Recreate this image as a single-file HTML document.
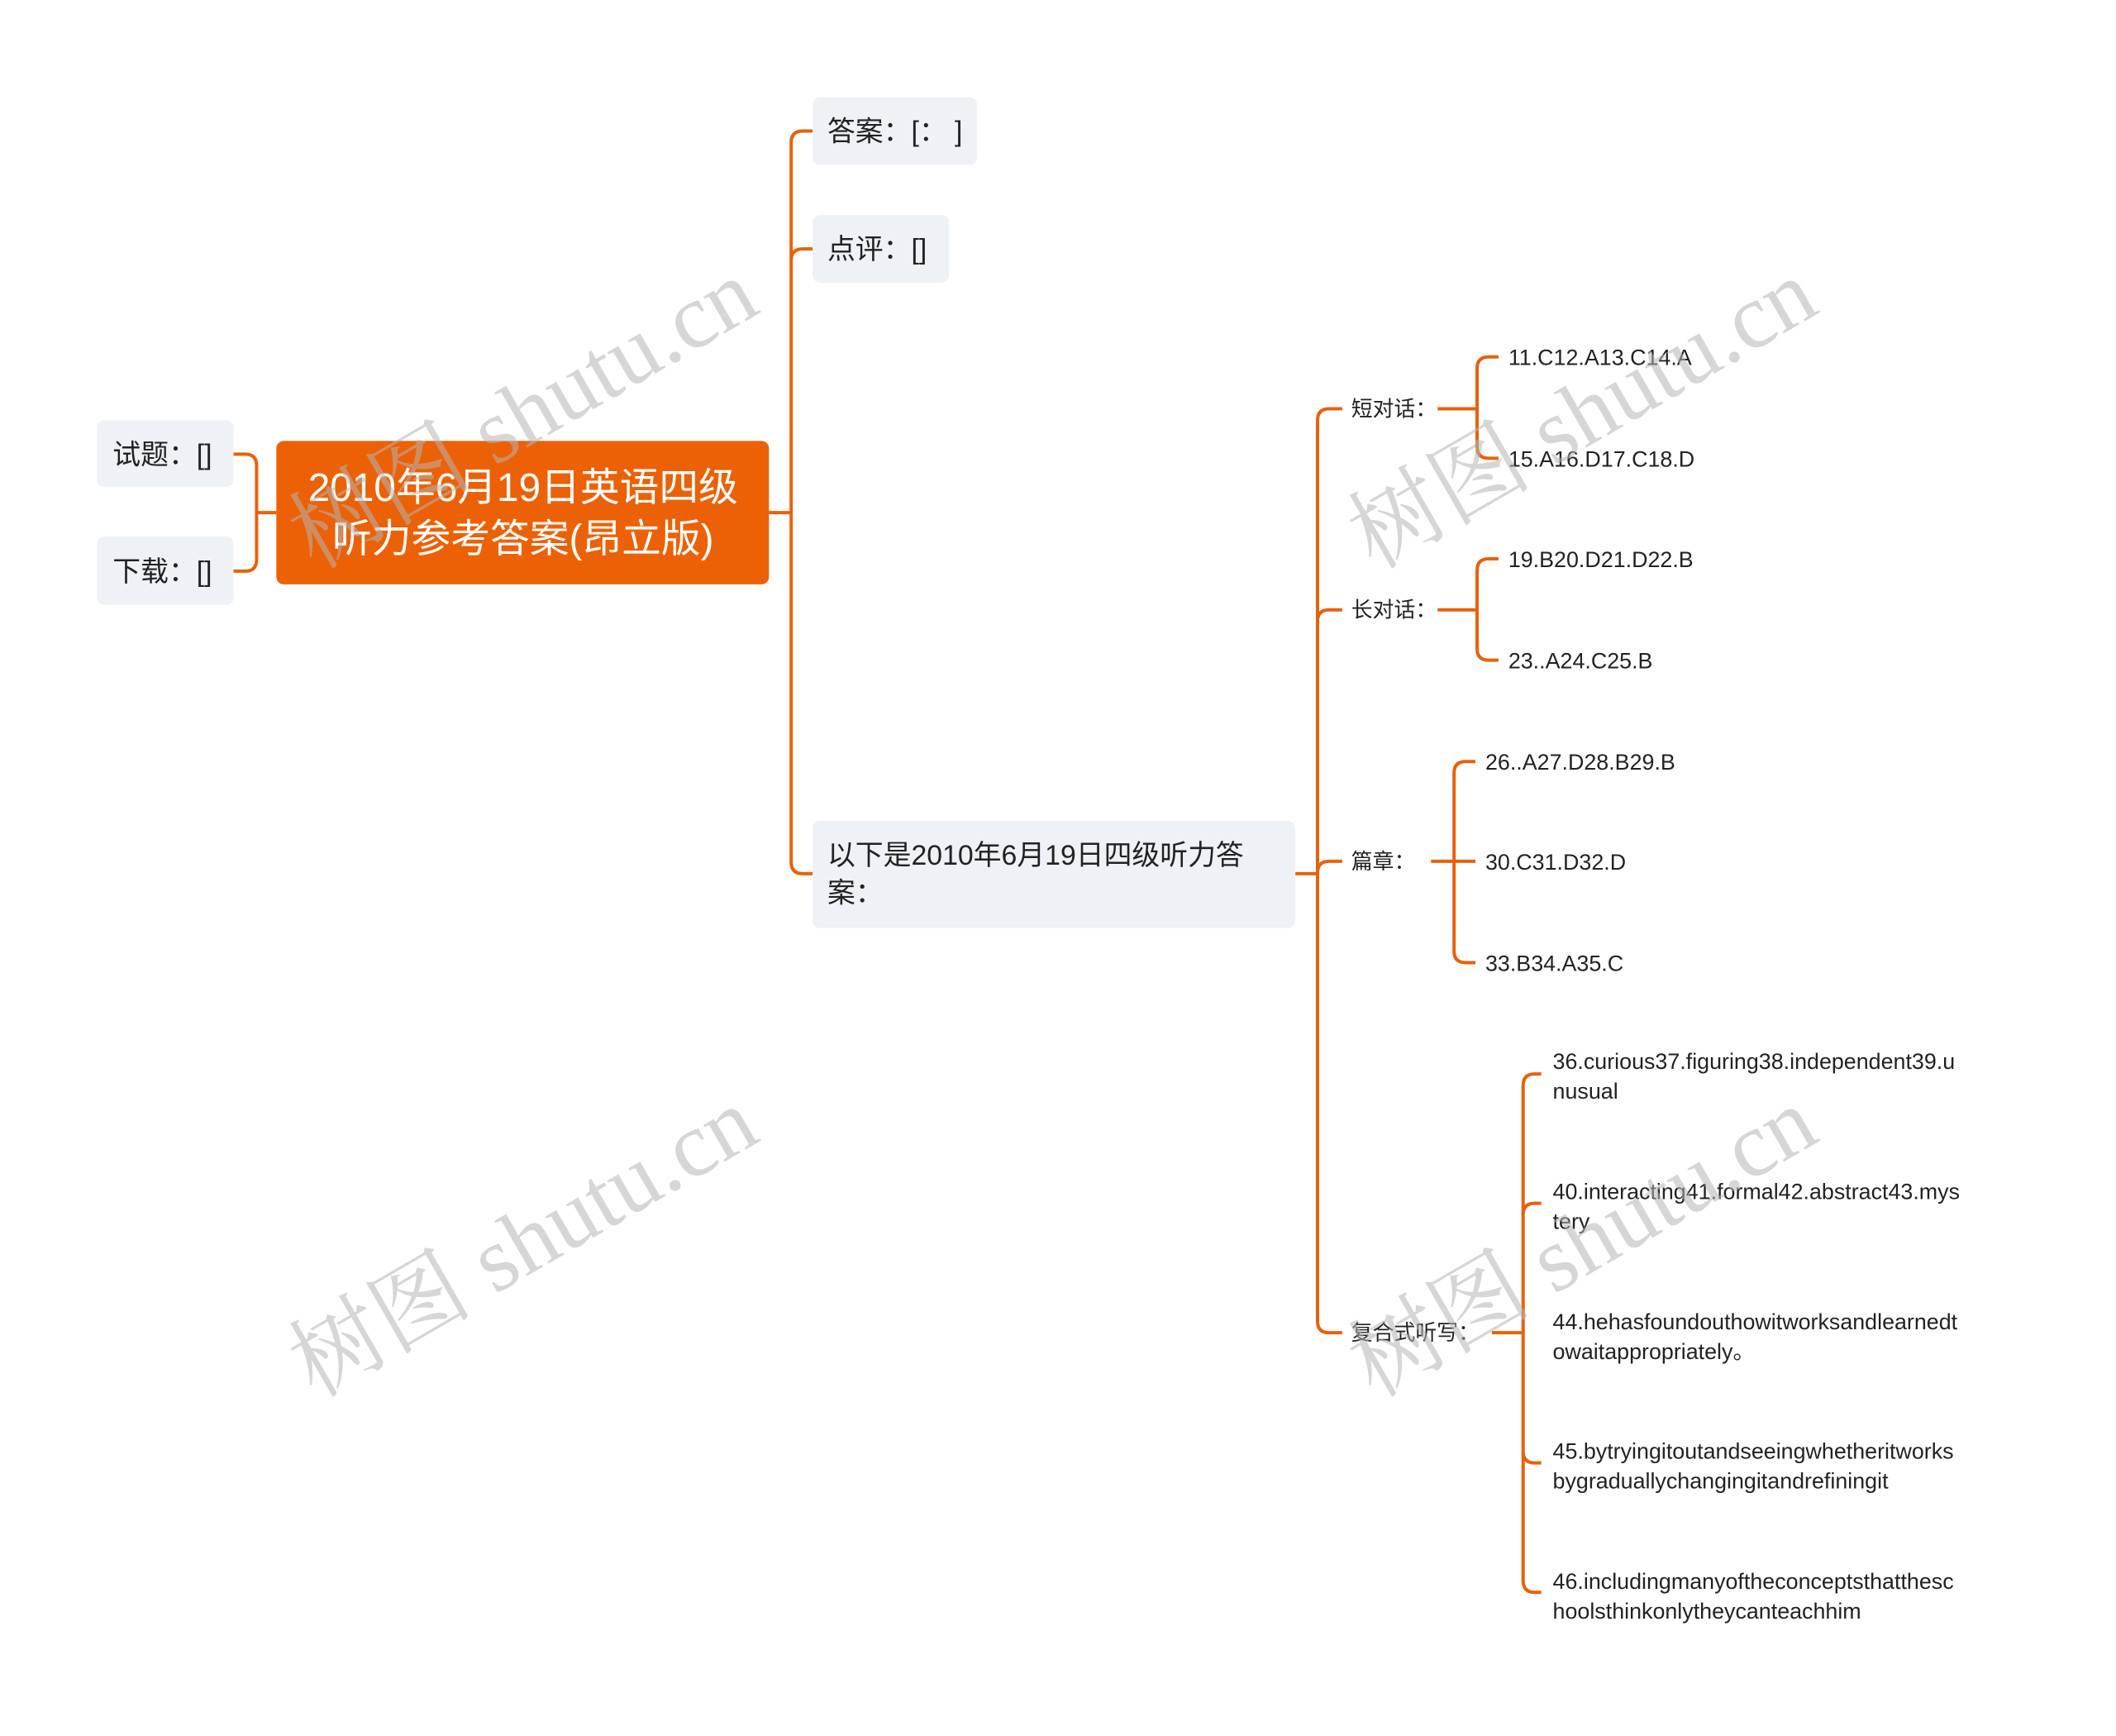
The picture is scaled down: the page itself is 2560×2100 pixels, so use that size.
<!DOCTYPE html>
<html><head><meta charset="utf-8"><style>
html,body{margin:0;padding:0;background:#fff;}
svg{display:block;}
text{font-family:"Liberation Sans","Noto Sans CJK SC",sans-serif;}
</style></head><body>
<svg width="2560" height="2100" viewBox="0 0 2560 2100" xmlns="http://www.w3.org/2000/svg">
<g transform="scale(0.995,0.997)">
<g fill="none" stroke="#e8610a" stroke-width="4">
<path d="M336 622 H312"/>
<path d="M284 551 H298 Q312 551 312 565 V679 Q312 693 298 693 H284"/>
<path d="M935 622 H962"/>
<path d="M988 159 H976 Q962 159 962 173 V1046 Q962 1060 976 1060 H988"/>
<path d="M962 302 Q962 288 976 288 H988" transform="translate(0,14)"/>
<path d="M1575 1060 H1602"/>
<path d="M1632 496 H1616 Q1602 496 1602 510 V1603 Q1602 1617 1616 1617 H1632"/>
<path d="M1602 754 Q1602 740 1616 740 H1632"/>
<path d="M1602 1059 Q1602 1045 1616 1045 H1632"/>
<path d="M1748 496 H1796"/>
<path d="M1822 433 H1810 Q1796 433 1796 447 V542 Q1796 556 1810 556 H1822"/>
<path d="M1748 740 H1796"/>
<path d="M1822 678 H1810 Q1796 678 1796 692 V787 Q1796 801 1810 801 H1822"/>
<path d="M1740 1045 H1794"/>
<path d="M1794 924 H1782 Q1768 924 1768 938 V1154 Q1768 1168 1782 1168 H1794"/>
<path d="M1814 1617 H1852"/>
<path d="M1874 1303 H1866 Q1852 1303 1852 1317 V1918 Q1852 1932 1866 1932 H1874"/>
<path d="M1852 1474 Q1852 1460 1866 1460 H1874"/>
<path d="M1852 1761 Q1852 1775 1866 1775 H1874"/>
</g>
<rect x="336" y="535" width="599" height="174" rx="9" fill="#ec6105"/>
<rect x="118" y="510" width="166" height="81" rx="9" fill="#eef1f5"/>
<rect x="118" y="651" width="166" height="83" rx="9" fill="#eef1f5"/>
<rect x="988" y="118" width="200" height="82" rx="9" fill="#eef1f5"/>
<rect x="988" y="261" width="166" height="82" rx="9" fill="#eef1f5"/>
<rect x="988" y="996" width="587" height="130" rx="9" fill="#eef1f5"/>
<g fill="#fff" font-size="48" text-anchor="middle">
<text x="636" y="608">2010年6月19日英语四级</text>
<text x="636" y="670">听力参考答案(昂立版)</text>
</g>
<g fill="#222" font-size="34">
<text x="137" y="563">试题：[]</text>
<text x="137" y="705">下载：[]</text>
<text x="1006" y="171">答案：[：  ]</text>
<text x="1006" y="314">点评：[]</text>
<text x="1006" y="1049">以下是2010年6月19日四级听力答</text>
<text x="1006" y="1095">案：</text>
</g>
<g fill="#222" font-size="26">
<text x="1643" y="505">短对话：</text>
<text x="1643" y="749">长对话：</text>
<text x="1643" y="1054">篇章：</text>
<text x="1643" y="1626">复合式听写：</text>
</g>
<g fill="#222" font-size="27">
<text x="1834" y="443">11.C12.A13.C14.A</text>
<text x="1834" y="566">15.A16.D17.C18.D</text>
<text x="1834" y="688">19.B20.D21.D22.B</text>
<text x="1834" y="811">23..A24.C25.B</text>
<text x="1806" y="934">26..A27.D28.B29.B</text>
<text x="1806" y="1055">30.C31.D32.D</text>
<text x="1806" y="1178">33.B34.A35.C</text>
<text x="1888" y="1297">36.curious37.figuring38.independent39.u</text>
<text x="1888" y="1333">nusual</text>
<text x="1888" y="1455">40.interacting41.formal42.abstract43.mys</text>
<text x="1888" y="1491">tery</text>
<text x="1888" y="1613">44.hehasfoundouthowitworksandlearnedt</text>
<text x="1888" y="1649">owaitappropriately。</text>
<text x="1888" y="1770">45.bytryingitoutandseeingwhetheritworks</text>
<text x="1888" y="1806">bygraduallychangingitandrefiningit</text>
<text x="1888" y="1928">46.includingmanyoftheconceptsthatthesc</text>
<text x="1888" y="1964">hoolsthinkonlytheycanteachhim</text>
</g>
<g fill="#b4b4b4" fill-opacity="0.55" font-size="112" text-anchor="middle">
<text x="0" y="0" transform="translate(655,535) rotate(-30)" style="font-family:'Liberation Serif','Noto Serif CJK SC',serif">树图 shutu.cn</text>
<text x="0" y="0" transform="translate(1943,535) rotate(-30)" style="font-family:'Liberation Serif','Noto Serif CJK SC',serif">树图 shutu.cn</text>
<text x="0" y="0" transform="translate(655,1540) rotate(-30)" style="font-family:'Liberation Serif','Noto Serif CJK SC',serif">树图 shutu.cn</text>
<text x="0" y="0" transform="translate(1943,1540) rotate(-30)" style="font-family:'Liberation Serif','Noto Serif CJK SC',serif">树图 shutu.cn</text>
</g>
</g>
</svg>
</body></html>
